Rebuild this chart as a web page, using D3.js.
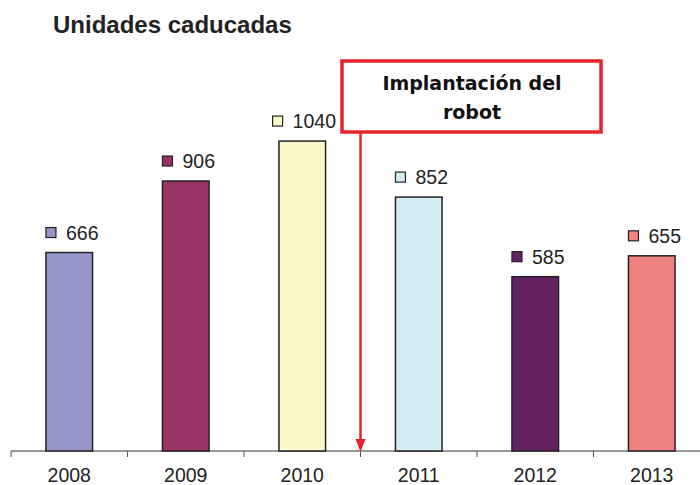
<!DOCTYPE html>
<html><head><meta charset="utf-8">
<script src="https://cdn.jsdelivr.net/npm/d3@7"></script>
<style>body{margin:0;background:#fff}svg{display:block}</style>
</head><body>
<script>
const years = ["2008","2009","2010","2011","2012","2013"];
const values = [666, 906, 1040, 852, 585, 655];
const colors = ["#9595c9","#993366","#fbf9cc","#d4ecf3","#642264","#f08282"];
const title = "Unidades caducadas";
const annotation = ["Implantación del","robot"];

const W = 700, H = 485;
const svg = d3.select("body").append("svg").attr("width", W).attr("height", H);
const x = d3.scaleBand().domain(years).range([11, 710]).paddingInner(0.6).paddingOuter(0.3);
const y = d3.scaleLinear().domain([0, 1000]).range([451, 153]);

svg.append("text").attr("x", 53).attr("y", 33).attr("font-family", "Liberation Sans, Arial, sans-serif")
  .attr("font-weight", "bold").attr("font-size", 24).attr("fill", "#222").text(title);

// axis
const xTicks = d3.scaleBand().domain(years).range([11, 710]);
const ax = svg.append("g").attr("transform", "translate(0,451)");
ax.append("line").attr("x1", 11).attr("x2", 700).attr("stroke", "#333").attr("stroke-width", 1);
ax.selectAll("line.t").data(years).join("line").attr("class","t")
  .attr("x1", d => xTicks(d)).attr("x2", d => xTicks(d)).attr("y1", 0).attr("y2", 6)
  .attr("stroke", "#555").attr("stroke-width", 1);
ax.selectAll("text").data(years).join("text")
  .attr("x", d => xTicks(d) + xTicks.bandwidth()/2).attr("y", 31)
  .attr("text-anchor", "middle").attr("font-family", "Liberation Sans, Arial, sans-serif")
  .attr("font-size", 19.5).attr("fill", "#222").text(d => d);

// bars
svg.selectAll("rect.bar").data(values).join("rect").attr("class","bar")
  .attr("x", (d,i) => x(years[i])).attr("width", x.bandwidth())
  .attr("y", d => y(d)).attr("height", d => y(0) - y(d))
  .attr("fill", (d,i) => colors[i]).attr("stroke", "#222").attr("stroke-width", 1.5);

// annotation box geometry
const boxX = 342, boxY = 61, boxW = 259, boxH = 71;

// labels (marker + value), nudged left if they would touch the annotation box
const lab = svg.selectAll("g.lab").data(values).join("g").attr("class","lab");
lab.append("rect")
  .attr("x", 0).attr("y", -25).attr("width", 10).attr("height", 10)
  .attr("fill", (d,i) => colors[i]).attr("stroke", "#222").attr("stroke-width", 1.2);
lab.append("text").attr("x", 20).attr("y", -13)
  .attr("font-family", "Liberation Sans, Arial, sans-serif").attr("font-size", 19.5).attr("fill", "#222")
  .text(d => d);
lab.attr("transform", function(d, i) {
  let gx = x(years[i]);
  const tl = d3.select(this).select("text").node().getComputedTextLength();
  const top = y(d) - 30;
  if (top < boxY + boxH && gx + 20 + tl > boxX - 4 && gx < boxX + boxW) {
    gx = Math.min(gx, boxX - 6 - 20 - tl);
  }
  return `translate(${gx},${y(d)})`;
});

// annotation arrow
const ax0 = xTicks("2011");
svg.append("line").attr("x1", ax0).attr("x2", ax0).attr("y1", 132).attr("y2", 442)
  .attr("stroke", "#e8222b").attr("stroke-width", 2.5);
svg.append("path").attr("d", `M${ax0-5},439 L${ax0+5},439 L${ax0},452 Z`).attr("fill", "#e8222b");
svg.append("rect").attr("x", boxX).attr("y", boxY).attr("width", boxW).attr("height", boxH)
  .attr("fill", "#fff").attr("stroke", "#e8222b").attr("stroke-width", 3.5);
svg.selectAll("text.an").data(annotation).join("text").attr("class","an")
  .attr("x", 472).attr("y", (d,i) => 90 + i*29).attr("text-anchor", "middle")
  .attr("font-family", "DejaVu Sans, sans-serif").attr("font-weight", "bold")
  .attr("font-size", 19).attr("fill", "#111").text(d => d);
</script>
</body></html>
